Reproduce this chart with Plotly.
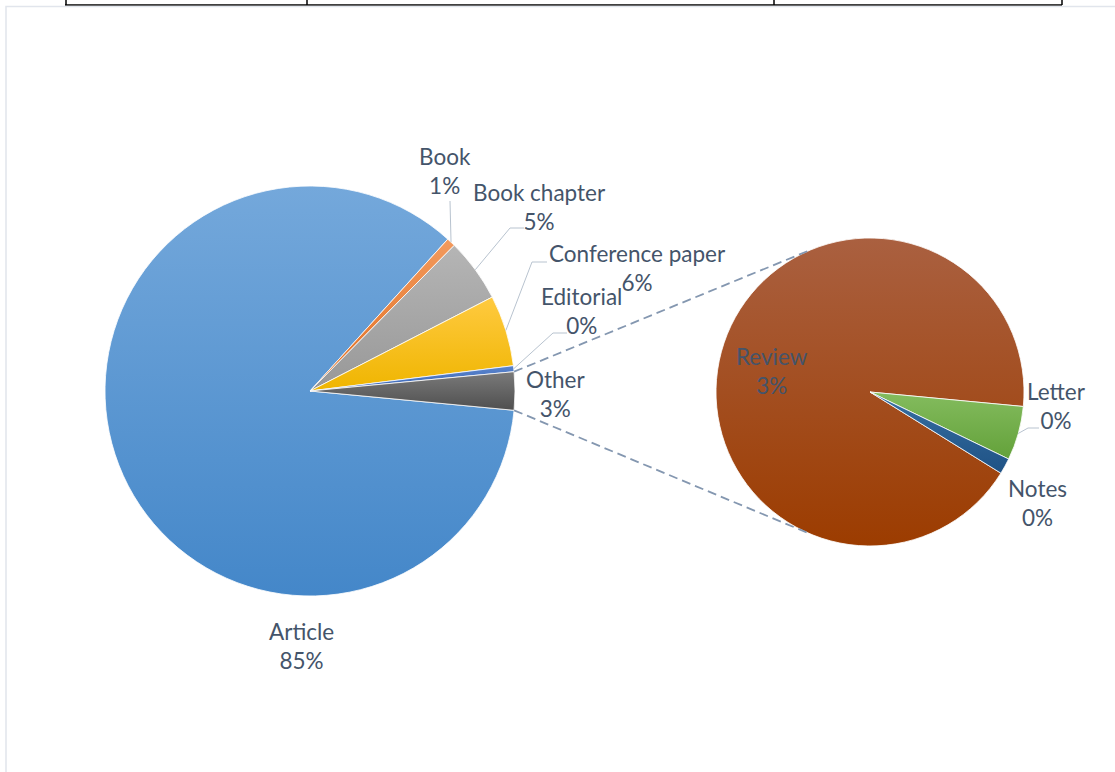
import math
import json
import plotly.graph_objects as go

# ---------------- data ----------------
main_labels = ["Article", "Book", "Book chapter", "Conference paper", "Editorial", "Other"]
main_values = [85.2, 0.7, 5.0, 5.6, 0.47]          # "Other" is the sum of the secondary pie
sub_labels = ["Review", "Letter", "Notes"]
sub_values = [2.78, 0.17, 0.05]

main_colors = ["#5b9bd5", "#ed7d31", "#a5a5a5", "#fcc000", "#4472c4", "#636363"]
sub_colors = ["#a2470f", "#70ad47", "#255e91"]
# gradient stops (top, bottom) for the Office-style fills
main_grad = [("#74a8db", "#4487c9"), ("#f29a5e", "#e06c1e"), ("#b5b5b5", "#989898"),
             ("#ffca40", "#efb500"), ("#5a84cc", "#3a66b6"), ("#7a7a7a", "#4f4f4f")]
sub_grad = [("#aa6040", "#9c3c00"), ("#84bc5e", "#63a13a"), ("#3870a3", "#1f5285")]

other_value = sum(sub_values)
main_all = main_values + [other_value]
total = sum(main_all)

# ---------------- layout constants (pixels) ----------------
W, H = 1115, 772
MC, MR = (310, 391), 205      # main pie centre / radius
SC, SR = (870, 392), 154      # secondary pie centre / radius
SUB_ROT = 121.8               # start angle of secondary pie (deg clockwise from 12 o'clock)

FONT = "Lato, 'Noto Sans', sans-serif"
FONT_SIZE = 22.5
LABEL_COLOR = "#44546a"
LEADER_COLOR = "#b8c3cf"

def px(x):
    return x / W

def py(y):
    return 1 - y / H

def domain(c, r):
    return dict(x=[px(c[0] - r), px(c[0] + r)], y=[py(c[1] + r), py(c[1] - r)])

# main pie: "Other" slice centred on 3 o'clock
other_half = other_value / total * 360 / 2
main_rot = 90 + other_half

def slice_angles(values, rot):
    """(start, end) of each slice in math degrees, slices drawn clockwise"""
    tot = sum(values)
    out = []
    cur = 90 - rot
    for v in values:
        a = v / tot * 360
        out.append((cur, cur - a))
        cur -= a
    return out

def edge_point(c, r, ang):
    return (c[0] + r * math.cos(math.radians(ang)), c[1] - r * math.sin(math.radians(ang)))

main_ang = slice_angles(main_all, main_rot)
sub_ang = slice_angles(sub_values, SUB_ROT)

fig = go.Figure()
fig.add_trace(go.Pie(
    labels=main_labels, values=main_all, sort=False, direction="clockwise",
    rotation=main_rot, domain=domain(MC, MR), textinfo="none", hoverinfo="label+percent",
    marker=dict(colors=main_colors, line=dict(color="white", width=0.8)), showlegend=False,
))
fig.add_trace(go.Pie(
    labels=sub_labels, values=sub_values, sort=False, direction="clockwise",
    rotation=SUB_ROT, domain=domain(SC, SR), textinfo="none", hoverinfo="label+value",
    marker=dict(colors=sub_colors, line=dict(color="white", width=0.8)), showlegend=False,
))

# ---------------- labels ----------------
def pct(v):
    return f"{round(v / total * 100):.0f}%"

label_pos = {
    "Article": (301, 646),
    "Book": (445, 171),
    "Book chapter": (539, 207),
    "Conference paper": (637, 268),
    "Editorial": (581, 311),
    "Other": (555, 394),
    "Review": (772, 371),
    "Letter": (1056, 406),
    "Notes": (1037, 503),
}
annotations = []
for lab, v in list(zip(main_labels, main_all)) + list(zip(sub_labels, sub_values)):
    x, y = label_pos[lab]
    annotations.append(dict(x=px(x), y=py(y), xref="paper", yref="paper", showarrow=False,
                            xanchor="center", yanchor="middle",
                            text=f"{lab}<br>{pct(v)}", align="center",
                            font=dict(family=FONT, size=FONT_SIZE, color=LABEL_COLOR)))

# ---------------- leader lines ----------------
leaders = {
    "Book": [(450, 201)],
    "Book chapter": [(510, 228), (524, 228)],
    "Conference paper": [(532, 262), (547, 262)],
    "Editorial": [(553, 333), (567, 333)],
    "Letter": [(1028, 428), (1039, 428)],
}
shapes = []

def path_of(points):
    return "M " + " L ".join(f"{px(x)},{py(y)}" for x, y in points)

for lab, pts in leaders.items():
    if lab in main_labels:
        a0, a1 = main_ang[main_labels.index(lab)]
        start = edge_point(MC, MR, (a0 + a1) / 2)
    else:
        a0, a1 = sub_ang[sub_labels.index(lab)]
        start = edge_point(SC, SR, (a0 + a1) / 2)
    shapes.append(dict(type="path", xref="paper", yref="paper", path=path_of([start] + pts),
                       line=dict(color=LEADER_COLOR, width=1)))

# ---------------- connector (dashed) lines, tangent to the secondary pie ----------------
o0, o1 = main_ang[-1]
for ang, sign in ((o0, 1), (o1, -1)):
    p = edge_point(MC, MR, ang)
    dx, dy = p[0] - SC[0], p[1] - SC[1]
    d = math.hypot(dx, dy)
    th = math.atan2(dy, dx)
    al = math.acos(SR / d)
    t = th + sign * al
    q = (SC[0] + SR * math.cos(t), SC[1] + SR * math.sin(t))
    shapes.append(dict(type="line", xref="paper", yref="paper",
                       x0=px(p[0]), y0=py(p[1]), x1=px(q[0]), y1=py(q[1]),
                       line=dict(color="#8497b0", width=1.8, dash="9px,5px")))

# ---------------- page decoration (table edge + chart border) ----------------
shapes.append(dict(type="line", xref="paper", yref="paper", x0=px(65), x1=px(1062), y0=py(5), y1=py(5),
                   line=dict(color="black", width=1.5)))
for xv in (66, 307, 774, 1062):
    shapes.append(dict(type="line", xref="paper", yref="paper", x0=px(xv), x1=px(xv), y0=py(0), y1=py(5),
                       line=dict(color="black", width=1.5)))
shapes.append(dict(type="path", xref="paper", yref="paper",
                   path=f"M {px(6)},{py(H)} L {px(6)},{py(6.5)} L {px(W)},{py(6.5)}",
                   line=dict(color="#e1e5ec", width=1.5)))

fig.update_layout(
    width=W, height=H, margin=dict(l=0, r=0, t=0, b=0),
    paper_bgcolor="white", plot_bgcolor="white",
    annotations=annotations, shapes=shapes,
)

# vertical gradient fills for the slices (applied to the library-drawn slice paths)
grads = json.dumps([main_grad, sub_grad])
post = """
document.body.style.margin = '0px';
var gd = document.getElementById('{plot_id}');
var grads = %s;
var svg = gd.querySelector('.main-svg');
var defs = svg.querySelector('defs');
var NS = 'http://www.w3.org/2000/svg';
var traces = gd.querySelectorAll('g.pielayer g.trace');
traces.forEach(function(tr, ti) {
  tr.querySelectorAll('g.slice path.surface').forEach(function(p, si) {
    var g = grads[ti][si];
    if (!g) return;
    var id = 'grad_' + ti + '_' + si;
    var lg = document.createElementNS(NS, 'linearGradient');
    lg.setAttribute('id', id);
    lg.setAttribute('x1', '0'); lg.setAttribute('y1', '0');
    lg.setAttribute('x2', '0'); lg.setAttribute('y2', '1');
    [[0, g[0]], [1, g[1]]].forEach(function(s) {
      var st = document.createElementNS(NS, 'stop');
      st.setAttribute('offset', s[0]);
      st.setAttribute('stop-color', s[1]);
      lg.appendChild(st);
    });
    defs.appendChild(lg);
    p.style.fill = 'url(#' + id + ')';
  });
});
""" % grads
fig.write_html("out.html", post_script=post, config={"displayModeBar": False})
